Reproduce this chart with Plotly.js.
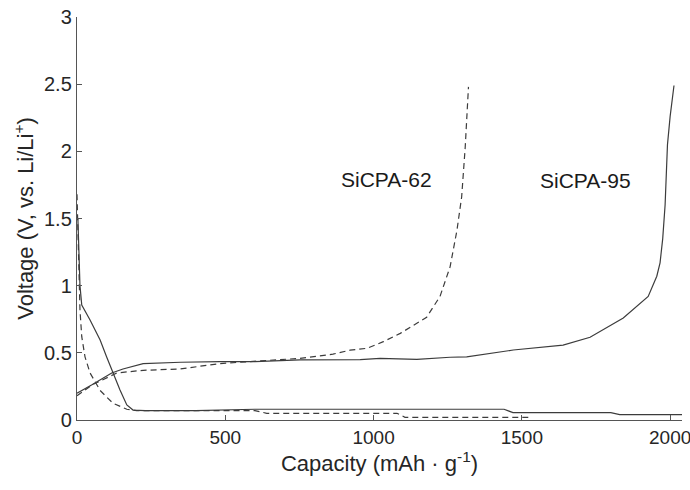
<!DOCTYPE html>
<html>
<head>
<meta charset="utf-8">
<script src="https://cdn.plot.ly/plotly-3.0.1.min.js"></script>
<style>html,body{margin:0;padding:0;background:#fff;}#chart{width:690px;height:490px;}</style>
</head>
<body>
<div id="chart"></div>
<script>
// SiCPA-95 (solid) discharge
const cap95Dis = [0, 3, 10, 16, 44, 78, 100, 121, 145, 168, 189, 230, 400, 600, 800, 1000, 1200, 1440, 1470, 1500, 1800, 1830, 2040];
const v95Dis   = [1.5, 1.5, 1.0, 0.856, 0.745, 0.596, 0.469, 0.35, 0.223, 0.112, 0.074, 0.07, 0.07, 0.08, 0.08, 0.08, 0.08, 0.08, 0.055, 0.055, 0.055, 0.04, 0.04];
// SiCPA-95 (solid) charge
const cap95Chg = [0, 49, 117, 155, 223, 350, 482, 600, 752, 955, 1022, 1146, 1258, 1314, 1471, 1639, 1730, 1842, 1926, 1955, 1966, 1975, 1983, 1991, 2000, 2013];
const v95Chg   = [0.2, 0.26, 0.35, 0.38, 0.42, 0.43, 0.434, 0.435, 0.447, 0.45, 0.459, 0.452, 0.467, 0.47, 0.521, 0.558, 0.616, 0.76, 0.92, 1.07, 1.17, 1.35, 1.6, 2.05, 2.26, 2.49];
// SiCPA-62 (dashed) discharge
const cap62Dis = [0, 5, 10, 16, 27, 44, 78, 121, 168, 201, 400, 600, 640, 1079, 1106, 1528];
const v62Dis   = [1.68, 1.2, 0.82, 0.62, 0.47, 0.35, 0.22, 0.125, 0.08, 0.07, 0.07, 0.07, 0.05, 0.05, 0.02, 0.02];
// SiCPA-62 (dashed) charge
const cap62Chg = [0, 50, 134, 223, 347, 482, 583, 695, 752, 863, 921, 978, 1033, 1090, 1179, 1224, 1258, 1281, 1297, 1309, 1320];
const v62Chg   = [0.18, 0.26, 0.35, 0.37, 0.38, 0.42, 0.435, 0.45, 0.459, 0.49, 0.52, 0.534, 0.583, 0.645, 0.765, 0.92, 1.14, 1.41, 1.66, 2.03, 2.48];

const xTicks = [0, 500, 1000, 1500, 2000];
const yTicks = [0, 0.5, 1, 1.5, 2, 2.5, 3];
const labels = ["SiCPA-62", "SiCPA-95"];

const lineCol = '#3c3c3c';
const solid = {color: lineCol, width: 1.2};
const dashed = {color: lineCol, width: 1.2, dash: '6px,4px'};

const traces = [
  {x: cap95Dis, y: v95Dis, mode: 'lines', line: solid, name: labels[1]},
  {x: cap95Chg, y: v95Chg, mode: 'lines', line: solid, name: labels[1]},
  {x: cap62Dis, y: v62Dis, mode: 'lines', line: dashed, name: labels[0]},
  {x: cap62Chg, y: v62Chg, mode: 'lines', line: dashed, name: labels[0]}
];

const fam = 'Liberation Sans, Arial, sans-serif';
const txt = '#262626';

const layout = {
  width: 690, height: 490,
  margin: {l: 77, r: 8, t: 17, b: 70},
  paper_bgcolor: '#fff', plot_bgcolor: '#fff',
  showlegend: false,
  font: {family: fam, color: txt},
  xaxis: {
    range: [0, 2040], tickvals: xTicks, ticktext: xTicks.map(String),
    showgrid: false, zeroline: false, showline: true, linecolor: '#555', linewidth: 1.2,
    ticks: 'inside', ticklen: 5, tickcolor: '#555', mirror: false,
    ticklabeloverflow: 'allow',
    tickfont: {size: 19, family: fam, color: txt},
    title: {text: 'Capacity (mAh · g<sup>-1</sup>)', font: {size: 22, family: fam, color: txt}, standoff: 6}
  },
  yaxis: {
    range: [0, 3], tickvals: yTicks, ticktext: yTicks.map(String),
    showgrid: false, zeroline: false, showline: true, linecolor: '#555', linewidth: 1.2,
    ticks: 'inside', ticklen: 5, tickcolor: '#555', mirror: false,
    ticklabeloverflow: 'allow',
    tickfont: {size: 20, family: fam, color: txt},
    title: {text: 'Voltage (V, vs. Li/Li<sup>+</sup>)', font: {size: 22, family: fam, color: txt}, standoff: 4}
  },
  annotations: [
    {x: 1042, y: 1.787, xref: 'x', yref: 'y', text: labels[0], showarrow: false, font: {size: 21, family: fam, color: '#1a1a1a'}},
    {x: 1713, y: 1.78, xref: 'x', yref: 'y', text: labels[1], showarrow: false, font: {size: 21, family: fam, color: '#1a1a1a'}}
  ]
};

Plotly.newPlot('chart', traces, layout, {displayModeBar: false, staticPlot: true});
</script>
</body>
</html>
